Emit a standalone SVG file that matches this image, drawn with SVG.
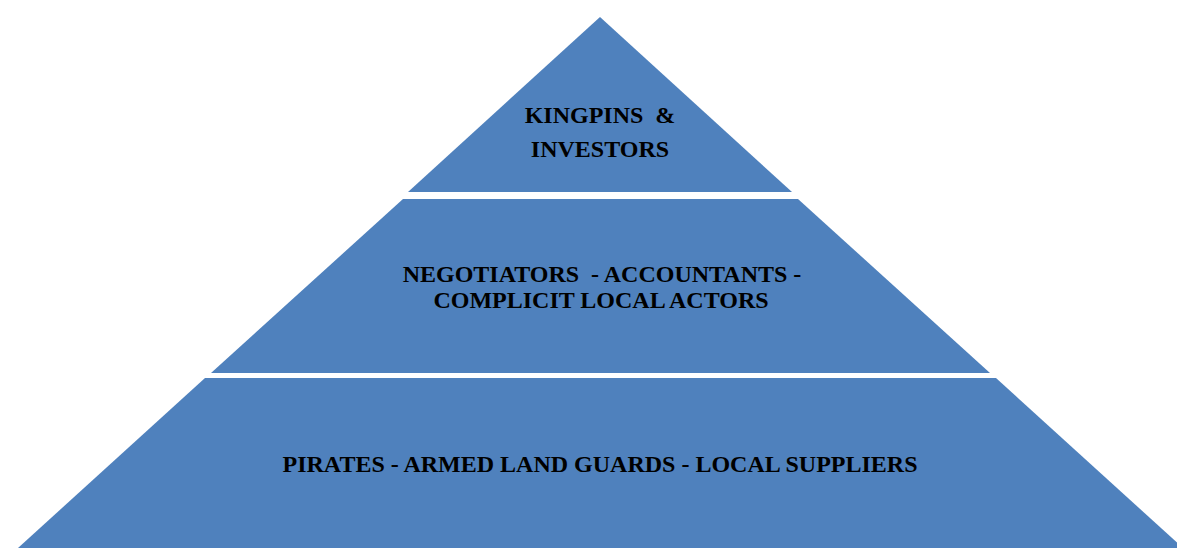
<svg xmlns="http://www.w3.org/2000/svg" width="1177" height="548" viewBox="0 0 1177 548">
<style>
.tier{fill:#4F81BD;}
.lbl{font-family:"Liberation Serif","Times New Roman",serif;font-weight:bold;font-size:24px;fill:#000;text-anchor:middle;white-space:pre;}
</style>
<rect x="0" y="0" width="1177" height="548" fill="#FFFFFF"/>
<g id="connectors"></g>
<g id="tier-top">
<polygon class="tier" points="600,17 792,192 408,192"/>
<text class="lbl" x="600" y="123" xml:space="preserve">KINGPINS  &amp;</text>
<text class="lbl" x="600" y="157">INVESTORS</text>
</g>
<g id="tier-middle">
<polygon class="tier" points="403,199 798,199 990,373 211,373"/>
<text class="lbl" x="602" y="282" xml:space="preserve">NEGOTIATORS  - ACCOUNTANTS -</text>
<text class="lbl" x="601" y="308">COMPLICIT LOCAL ACTORS</text>
</g>
<g id="tier-bottom">
<polygon class="tier" points="205,378 996,378 1183,548 18,548"/>
<text class="lbl" x="600" y="472">PIRATES - ARMED LAND GUARDS - LOCAL SUPPLIERS</text>
</g>
</svg>
